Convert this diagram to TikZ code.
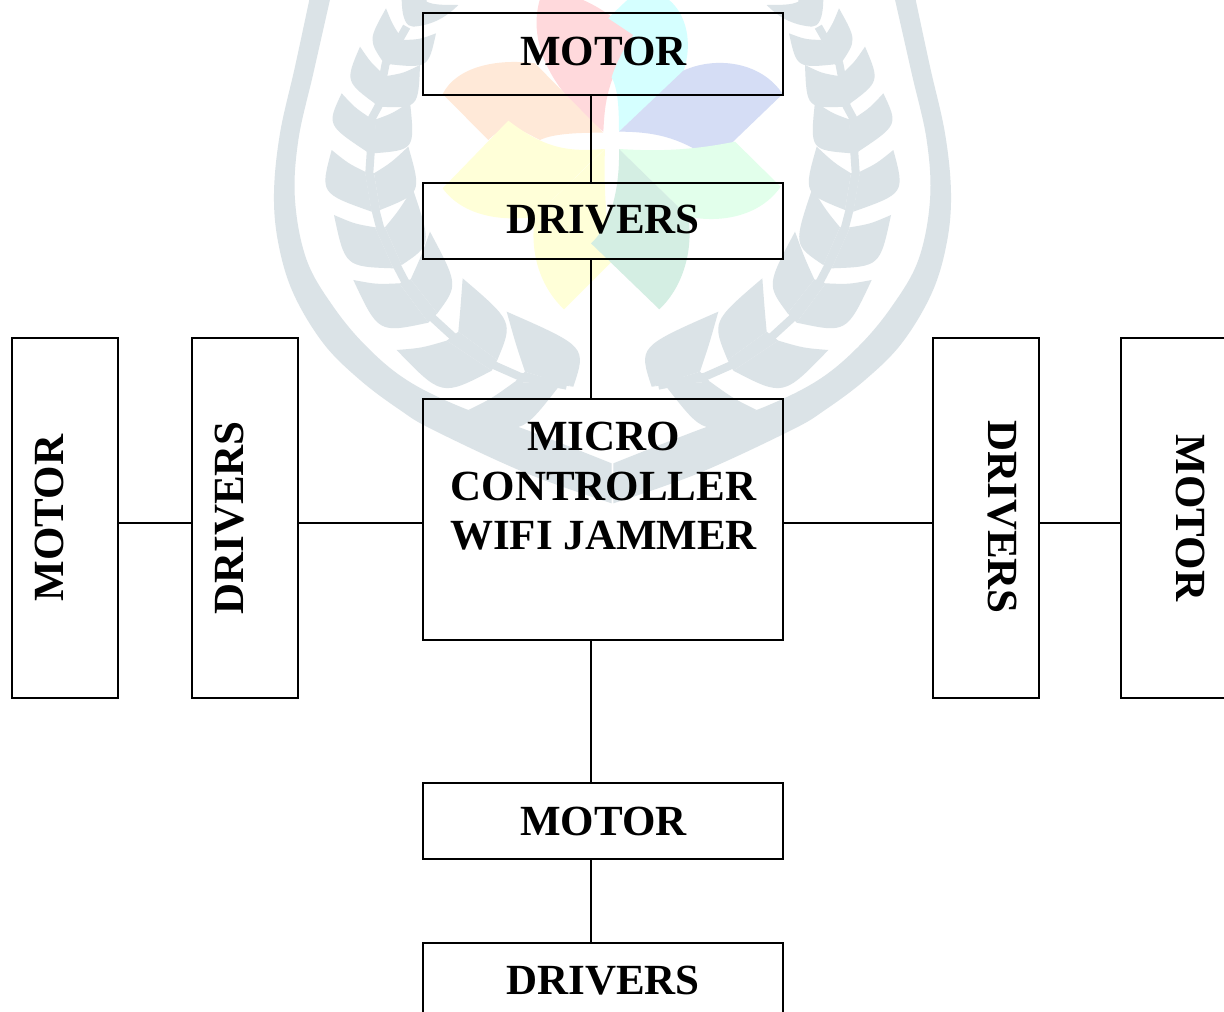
\documentclass[tikz,border=0pt]{standalone}
\usepackage{fontspec}
\setmainfont{Liberation Serif}
\definecolor{wm}{HTML}{DBE3E7}
\definecolor{pred}{HTML}{FFD9DC}
\definecolor{pcyan}{HTML}{D5FFFF}
\definecolor{pblue}{HTML}{D5DDF5}
\definecolor{porange}{HTML}{FFE9D8}
\definecolor{pyellow}{HTML}{FFFFD8}
\definecolor{plgreen}{HTML}{E2FFEB}
\definecolor{pdgreen}{HTML}{D4EEE3}
\newcommand{\lf}[8]{\fill[wm] (#1,#2) .. controls (#3,#4) .. (#5,#6) .. controls ({(#5+#7)/2},{(#6+#8)/2+8}) .. (#7,#8) -- cycle;}
\newcommand{\wmhalf}{%
  \fill[wm] plot[smooth,tension=.6] coordinates {(150,-10) (105,200) (60,400) (42,580) (55,730) (100,880) (190,1030) (300,1140) (420,1230) (520,1290) (800,1420) (1055,1510)}
    -- plot[smooth,tension=.6] coordinates {(1055,1390) (800,1290) (600,1220) (440,1140) (320,1040) (220,920) (140,780) (105,600) (115,420) (160,220) (212,-10)} -- cycle;
  \draw[wm,line width=8pt,line join=round] (440,80) -- (423,110) -- (377,191) -- (371,222) -- (355,319) -- (336,354) -- (332,459) -- (328,518) -- (347,632) -- (360,682) -- (412,800) -- (435,844) -- (518,954) -- (577,1008) -- (703,1096) -- (780,1130) -- (920,1157);
  \fill[wm] (415,100) -- (372,190) -- (382,192) -- (432,120) -- cycle;
  \fill[wm] (362,215) -- (355,318) -- (355,320) -- (380,228) -- cycle;
  \fill[wm] (325,350) -- (325,458) -- (340,460) -- (348,358) -- cycle;
  \fill[wm] (315,515) -- (335,635) -- (360,630) -- (342,520) -- cycle;
  \fill[wm] (345,682) -- (400,805) -- (425,795) -- (375,682) -- cycle;
  \fill[wm] (418,850) -- (505,968) -- (532,940) -- (452,838) -- cycle;
  \fill[wm] (560,1022) -- (695,1112) -- (712,1080) -- (595,995) -- cycle;
  \fill[wm] (765,1145) -- (900,1155) -- (940,1160) -- (795,1115) -- cycle;
  \lf{372}{190}{325}{120}{378}{25}{415}{100}
  \lf{355}{318}{255}{245}{300}{140}{362}{215}
  \lf{325}{458}{200}{375}{245}{280}{325}{350}
  \lf{335}{635}{180}{580}{215}{450}{315}{515}
  \lf{400}{805}{255}{800}{222}{645}{345}{682}
  \lf{505}{968}{355}{1000}{280}{840}{418}{850}
  \lf{695}{1112}{545}{1190}{410}{1050}{560}{1022}
  \lf{900}{1155}{780}{1310}{625}{1230}{765}{1145}
  \lf{382}{192}{505}{205}{528}{100}{432}{120}
  \lf{355}{320}{475}{325}{480}{195}{380}{228}
  \lf{340}{460}{465}{450}{450}{305}{348}{358}
  \lf{360}{630}{485}{580}{445}{440}{342}{520}
  \lf{425}{795}{515}{735}{458}{565}{375}{682}
  \lf{532}{940}{595}{855}{510}{695}{452}{838}
  \lf{712}{1080}{760}{965}{608}{835}{595}{995}
  \lf{940}{1160}{980}{1040}{740}{935}{795}{1115}
  \fill[wm] (425,-10) .. controls (425,60) and (440,80) .. (460,80) .. controls (520,75) and (560,50) .. (595,15) .. controls (550,15) and (520,15) .. (500,5) -- (500,-10) -- cycle;
}
\tikzset{
  box/.style={draw=black,line width=1.6pt,inner sep=0pt,rectangle},
  lbl/.style={font=\fontsize{43}{49.5}\selectfont\bfseries,align=center,inner sep=0pt,text=black},
  wire/.style={draw=black,line width=1.6pt}
}
\begin{document}
\begin{tikzpicture}[x=1pt,y=-1pt]
\clip (0,0) rectangle (1224,1012);
\fill[white] (0,0) rectangle (1224,1012);
% watermark
\begin{scope}[shift={(260,0)},x=0.33333pt,y=-0.33333pt]\wmhalf\end{scope}
\begin{scope}[shift={(965,0)},x=-0.33333pt,y=-0.33333pt]\wmhalf\end{scope}
\begin{scope}[shift={(420,0)},x=0.33333pt,y=-0.33333pt]
  \fill[pred] (550,395) .. controls (555,300) and (560,250) .. (640,105) .. controls (560,30) and (480,-20) .. (370,-30) .. controls (330,60) and (330,220) .. (550,395) -- cycle;
  \fill[pcyan] (597,395) .. controls (597,300) and (590,260) .. (575,232) .. controls (580,215) and (600,160) .. (640,105) -- (565,55) .. controls (600,20) and (630,-10) .. (660,-30) .. controls (780,-30) and (830,100) .. (790,215) -- cycle;
  \fill[pblue] (597,395) -- (790,212) .. controls (880,170) and (1020,180) .. (1088,282) -- (880,482) .. controls (790,420) and (720,395) .. (597,395) -- cycle;
  \fill[porange] (550,398) -- (345,190) .. controls (230,175) and (110,200) .. (68,282) -- (205,420) .. controls (265,360) and (300,390) .. (360,420) .. controls (400,400) and (480,398) .. (550,398) -- cycle;
  \fill[pyellow] (553,447) .. controls (450,455) and (380,450) .. (265,362) -- (68,565) .. controls (130,650) and (250,665) .. (345,650) -- (553,447) -- cycle;
  \fill[pyellow] (555,447) .. controls (550,560) and (560,680) .. (575,785) -- (432,928) .. controls (350,850) and (330,740) .. (345,650) -- cycle;
  \fill[plgreen] (597,447) .. controls (720,455) and (820,450) .. (945,425) -- (1082,560) .. controls (1020,650) and (900,670) .. (805,650) -- cycle;
  \fill[pdgreen] (597,447) -- (805,650) .. controls (820,750) and (790,860) .. (718,928) -- (513,730) .. controls (570,680) and (600,570) .. (597,447) -- cycle;
\end{scope}
% reference coordinates for the wires
\coordinate (vbus) at (591,0);
\coordinate (hbus) at (0,523);
% boxes
\node[box,minimum width=360pt,minimum height=82pt] (m1) at (603,54) {};
\node[box,minimum width=360pt,minimum height=76pt] (d1) at (603,221) {};
\node[box,minimum width=360pt,minimum height=241pt] (mc) at (603,519.5) {};
\node[box,minimum width=360pt,minimum height=76pt] (m2) at (603,821) {};
\node[box,minimum width=360pt,minimum height=100pt] (d2) at (603,993) {};
\node[box,minimum width=106pt,minimum height=360pt] (m3) at (65,518) {};
\node[box,minimum width=106pt,minimum height=360pt] (d3) at (245,518) {};
\node[box,minimum width=106pt,minimum height=360pt] (d4) at (986,518) {};
\node[box,minimum width=120pt,minimum height=360pt] (m4) at (1181,518) {};
% labels
\node[lbl] (tm1) at (603.5,51) {MOTOR};
\node[lbl] (td1) at (603,220) {DRIVERS};
\node[lbl,anchor=north] (tmc) at (603.5,422) {MICRO\\CONTROLLER\\WIFI JAMMER};
\node[lbl] (tm2) at (603.5,821) {MOTOR};
\node[lbl] (td2) at (603,981) {DRIVERS};
\node[lbl,rotate=90] (tm3) at (49.5,518) {MOTOR};
\node[lbl,rotate=90] (td3) at (229.5,518) {DRIVERS};
\node[lbl,rotate=-90] (td4) at (1002,517) {DRIVERS};
\node[lbl,rotate=-90] (tm4) at (1191,518) {MOTOR};
% connectors
\draw[wire] (m1.south -| vbus) -- (d1.north -| vbus);
\draw[wire] (d1.south -| vbus) -- (mc.north -| vbus);
\draw[wire] (mc.south -| vbus) -- (m2.north -| vbus);
\draw[wire] (m2.south -| vbus) -- (d2.north -| vbus);
\draw[wire] (m3.east |- hbus) -- (d3.west |- hbus);
\draw[wire] (d3.east |- hbus) -- (mc.west |- hbus);
\draw[wire] (mc.east |- hbus) -- (d4.west |- hbus);
\draw[wire] (d4.east |- hbus) -- (m4.west |- hbus);
\end{tikzpicture}
\end{document}
